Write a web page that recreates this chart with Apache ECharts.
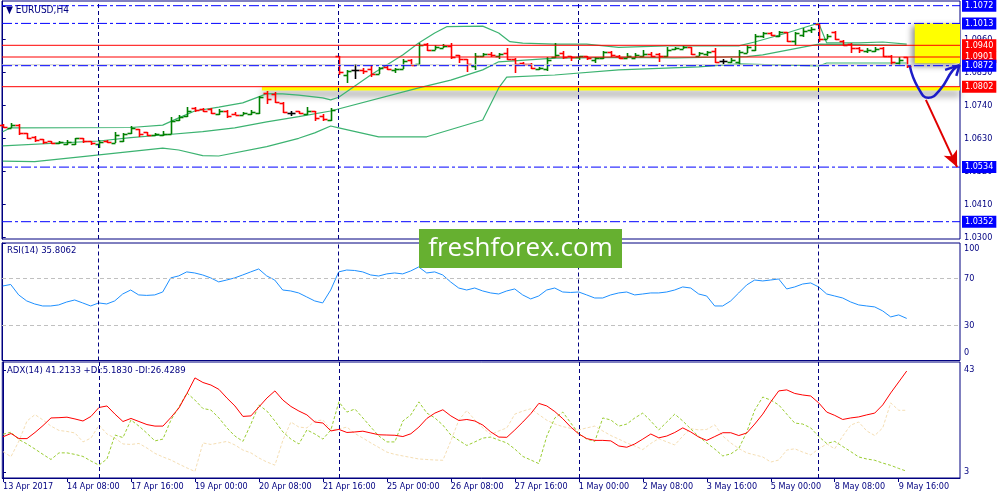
<!DOCTYPE html>
<html><head><meta charset="utf-8">
<script src="https://cdn.jsdelivr.net/npm/echarts@6/dist/echarts.min.js"></script>
<style>html,body{margin:0;padding:0;background:#fff}#c{width:1000px;height:500px}</style>
</head><body><div id="c"></div>
<script>
// ---------- DATA ----------
const timeLabels = ['13 Apr 2017','14 Apr 08:00','17 Apr 16:00','19 Apr 00:00','20 Apr 08:00','21 Apr 16:00','25 Apr 00:00','26 Apr 08:00','27 Apr 16:00','1 May 00:00','2 May 08:00','3 May 16:00','5 May 00:00','8 May 08:00','9 May 16:00'];
const timeLabelBars = [0,8,16,24,32,40,48,56,64,72,80,88,96,104,112];
const weekSeparators = [12,42,72,102];

const openP = [1.0673,1.0665,1.0675,1.0646,1.0634,1.0626,1.0620,1.0614,1.0612,1.0612,
1.0630,1.0620,1.0612,1.0622,1.0614,1.0620,1.0648,1.0660,1.0650,1.0640,
1.0640,1.0644,1.0690,1.0703,1.0730,1.0728,1.0727,1.0710,1.0722,1.0712,
1.0708,1.0710,1.0716,1.0780,1.0778,1.0749,1.0716,1.0720,1.0710,1.0720,
1.0705,1.0690,1.0904,1.0840,1.0858,1.0858,1.0860,1.0845,1.0868,1.0857,
1.0862,1.0892,1.0878,1.0943,1.0925,1.0932,1.0938,1.0907,1.0895,1.0872,
1.0905,1.0912,1.0903,1.0913,1.0895,1.0880,1.0878,1.0862,1.0860,1.0900,
1.0913,1.0903,1.0902,1.0903,1.0892,1.0898,1.0918,1.0905,1.0897,1.0897,
1.0903,1.0912,1.0910,1.0903,1.0928,1.0928,1.0935,1.0905,1.0910,1.0920,
1.0888,1.0883,1.0885,1.0915,1.0925,1.0970,1.0981,1.0972,1.0983,1.0955,
1.0975,1.0990,1.1012,1.0962,1.0985,1.0955,1.0945,1.0932,1.0920,1.0920,
1.0930,1.0905,1.0880,1.0902];
const highP = [1.0677,1.0680,1.0679,1.0648,1.0637,1.0628,1.0621,1.0620,1.0624,1.0632,
1.0632,1.0622,1.0624,1.0624,1.0650,1.0647,1.0670,1.0661,1.0652,1.0648,
1.0655,1.0700,1.0708,1.0734,1.0733,1.0730,1.0730,1.0728,1.0725,1.0719,
1.0719,1.0724,1.0771,1.0788,1.0784,1.0750,1.0722,1.0722,1.0736,1.0722,
1.0712,1.0730,1.0906,1.0858,1.0877,1.0863,1.0874,1.0869,1.0871,1.0865,
1.0893,1.0896,1.0947,1.0947,1.0941,1.0944,1.0948,1.0908,1.0895,1.0913,
1.0913,1.0918,1.0913,1.0930,1.0897,1.0886,1.0880,1.0869,1.0900,1.0949,
1.0920,1.0906,1.0904,1.0904,1.0900,1.0922,1.0922,1.0908,1.0914,1.0914,
1.0925,1.0919,1.0916,1.0933,1.0936,1.0938,1.0936,1.0919,1.0922,1.0930,
1.0894,1.0897,1.0925,1.0941,1.0978,1.0986,1.0983,1.0989,1.0986,1.0986,
1.0997,1.1000,1.1014,1.0978,1.0989,1.0958,1.0949,1.0933,1.0930,1.0933,
1.0933,1.0908,1.0902,1.0902];
const lowP = [1.0664,1.0663,1.0641,1.0628,1.0618,1.0612,1.0610,1.0610,1.0608,1.0607,
1.0614,1.0608,1.0597,1.0614,1.0614,1.0617,1.0644,1.0634,1.0637,1.0636,
1.0638,1.0644,1.0686,1.0702,1.0719,1.0719,1.0710,1.0708,1.0699,1.0708,
1.0707,1.0708,1.0712,1.0743,1.0747,1.0713,1.0706,1.0711,1.0708,1.0689,
1.0688,1.0688,1.0840,1.0813,1.0828,1.0843,1.0833,1.0843,1.0858,1.0849,
1.0860,1.0871,1.0876,1.0922,1.0924,1.0930,1.0893,1.0882,1.0852,1.0858,
1.0901,1.0900,1.0893,1.0891,1.0847,1.0874,1.0860,1.0858,1.0855,1.0897,
1.0893,1.0888,1.0891,1.0891,1.0882,1.0893,1.0902,1.0893,1.0897,1.0897,
1.0900,1.0902,1.0886,1.0902,1.0925,1.0927,1.0908,1.0905,1.0905,1.0880,
1.0878,1.0880,1.0875,1.0913,1.0920,1.0964,1.0971,1.0969,1.0952,1.0941,
1.0969,1.0980,1.0952,1.0960,1.0957,1.0938,1.0914,1.0916,1.0916,1.0919,
1.0902,1.0875,1.0875,1.0864];
const closeP = [1.0668,1.0674,1.0647,1.0632,1.0624,1.0618,1.0615,1.0617,1.0618,1.0630,
1.0620,1.0614,1.0619,1.0618,1.0640,1.0644,1.0663,1.0645,1.0641,1.0644,
1.0645,1.0686,1.0700,1.0720,1.0724,1.0721,1.0716,1.0722,1.0706,1.0709,
1.0714,1.0718,1.0768,1.0760,1.0752,1.0717,1.0716,1.0714,1.0720,1.0698,
1.0695,1.0725,1.0850,1.0855,1.0858,1.0855,1.0845,1.0866,1.0862,1.0862,
1.0888,1.0875,1.0940,1.0925,1.0935,1.0938,1.0900,1.0893,1.0877,1.0905,
1.0910,1.0907,1.0910,1.0895,1.0877,1.0877,1.0866,1.0866,1.0890,1.0909,
1.0901,1.0900,1.0903,1.0898,1.0897,1.0917,1.0907,1.0897,1.0905,1.0908,
1.0912,1.0906,1.0905,1.0925,1.0932,1.0933,1.0912,1.0914,1.0917,1.0886,
1.0888,1.0892,1.0918,1.0935,1.0970,1.0980,1.0975,1.0983,1.0955,1.0981,
1.0989,1.0996,1.0960,1.0972,1.0962,1.0942,1.0930,1.0925,1.0925,1.0928,
1.0905,1.0885,1.0892,1.0872];

// band lines read at [bar, price]
const bandUpper = [[0,1.0652],[1,1.0665],[16,1.0666],[20,1.0674],[22,1.0698],[24,1.0721],[27,1.0734],[30,1.0748],[32,1.0768],[33,1.0779],[35,1.0778],[37,1.0774],[40,1.0765],[41,1.0758],[42,1.0767],[46,1.0841],[50,1.0908],[52,1.0948],[54,1.0981],[55.5,1.1002],[60,1.1004],[62,1.0981],[63.4,1.0952],[65,1.0947],[69,1.0944],[73,1.0944],[77,1.0933],[83,1.0938],[92,1.0938],[94,1.0951],[98,1.0981],[100.5,1.1002],[102,1.1014],[103,1.0948],[107,1.0948],[110,1.0951],[113,1.0944]];
const bandMiddle = [[0,1.0605],[12,1.0621],[16,1.0632],[20,1.0641],[25,1.0652],[29,1.0665],[33,1.0685],[37,1.0702],[41,1.0721],[52,1.0798],[56,1.0824],[60,1.0858],[62,1.0885],[69,1.0897],[77,1.0900],[84,1.0898],[93,1.0902],[95,1.0908],[102,1.0944],[113,1.0940]];
const bandLower = [[0,1.0554],[4,1.0552],[10,1.0569],[15,1.0583],[20,1.0597],[22,1.0591],[25,1.0572],[27,1.0571],[33,1.0602],[37,1.0630],[39,1.0648],[41,1.0671],[42,1.0665],[47,1.0635],[53,1.0635],[60,1.0691],[62,1.0798],[63,1.0834],[69,1.0841],[77,1.0858],[87,1.0868],[92,1.0878],[102,1.0871],[103,1.0881],[113,1.0881]];

const priceTicks = [1.0300,1.0410,1.0520,1.0630,1.0740,1.0850,1.0960,1.1070];
const blueLevels = [1.1072,1.1013,1.0872,1.0534,1.0352];
const redLevels = [1.0940,1.0901,1.0802];
const askLevel = 1.0875;
const supportZone = [32.4, 1.0802, 1.0789];   // from bar, top, bottom
const targetZone = [114, 1.1013, 1.0880];
const forecastPath = [[113.4,1.0869],[114.4,1.0800],[115.7,1.0765],[117.2,1.0793],[118.8,1.0858],[119.6,1.0872]];
const forecastHead = [[117.8,1.0858],[119.6,1.0874],[119.2,1.0838]];
const dropArrow = [[115.4,1.0758],[119.3,1.0534]];

const rsi = [63.4,64.7,55.8,50.7,48.1,46.4,46.4,47.3,49.8,51.5,
49.0,46.4,49.0,48.1,50.7,56.6,60.0,55.8,55.4,55.8,
58.3,70.3,72.0,75.4,74.5,72.8,70.3,66.9,68.5,70.3,
72.8,75.4,77.9,72.0,68.5,60.0,59.2,57.5,54.1,50.7,
49.0,60.0,75.4,77.0,76.6,75.4,72.8,71.9,73.7,74.5,
73.7,76.2,79.6,74.5,75.4,72.8,66.8,61.7,60.0,61.7,
59.2,57.5,56.6,59.2,60.9,55.8,52.4,54.9,60.0,61.7,
58.3,57.9,58.3,55.8,53.2,53.2,55.8,57.5,58.3,55.8,
56.6,57.5,57.5,58.3,60.0,62.6,61.7,56.6,54.9,46.4,
46.4,50.7,57.5,64.3,68.5,67.7,68.5,69.4,60.9,62.6,
65.1,66.0,62.6,56.6,54.9,53.2,49.8,47.3,46.4,45.6,
42.2,37.1,38.8,35.8];
const rsiTicks = [0,30,70,100];
const rsiLevels = [70,30];

const adx = [16.8,18.1,16.1,16.1,18.5,21.2,24.2,24.3,24.5,23.8,
23.0,24.8,28.3,28.9,25.7,22.8,24.0,22.8,21.6,21.0,
21.0,24.4,28.1,33.8,39.9,38.1,37.1,35.4,32.0,28.9,
24.8,25.0,28.5,32.0,34.8,31.2,28.7,26.9,25.4,22.6,
22.2,19.1,19.7,18.5,18.7,19.0,18.3,17.6,17.5,17.4,
16.9,18.0,20.6,24.0,26.1,27.4,25.0,23.2,23.6,23.0,
21.4,18.7,16.7,16.6,19.5,22.6,25.9,29.9,28.9,26.7,
23.9,20.6,17.9,16.1,15.4,15.4,15.2,13.2,12.7,14.0,
15.9,17.9,16.4,17.1,18.5,20.3,18.7,16.7,15.4,16.9,
18.4,18.4,17.3,18.3,21.8,25.7,30.5,34.8,35.2,33.8,
33.2,32.8,30.1,26.5,25.2,23.6,24.2,24.6,25.4,26.1,
29.3,34.0,38.3,42.6];
const plusDI = [17.8,18.6,15.7,14.0,12.0,9.9,7.9,10.5,10.5,9.9,
9.1,7.3,5.7,8.1,17.5,16.5,23.4,21.0,18.2,15.2,
15.9,23.4,28.5,34.0,31.2,27.9,27.3,24.2,20.3,17.1,
15.0,21.8,29.3,26.9,23.0,18.7,15.9,14.0,19.5,17.9,
15.9,19.5,30.5,26.5,27.7,24.2,20.6,17.1,14.8,14.8,
23.0,25.4,30.5,26.1,24.2,21.4,17.5,15.4,13.4,14.8,
16.3,16.7,15.5,14.4,12.0,9.1,7.7,6.3,17.1,24.2,
26.5,22.2,18.0,15.9,15.0,24.2,23.4,21.0,21.8,24.2,
26.1,23.0,19.5,22.6,25.7,23.0,19.9,16.9,14.4,12.0,
9.3,10.1,12.2,18.7,27.3,32.4,31.2,29.3,25.7,22.2,
21.8,20.3,16.9,14.2,15.0,13.0,11.0,8.9,8.1,7.6,
6.5,5.6,4.4,3.3];
const minusDI = [11.0,9.0,15.2,23.0,25.5,23.4,21.0,19.3,18.9,18.3,
14.8,16.3,21.4,17.9,16.3,14.0,13.8,14.2,12.4,10.3,
8.9,7.7,6.1,4.6,3.2,14.4,13.8,14.4,15.0,13.6,
11.6,10.5,8.5,6.9,5.7,15.5,22.6,20.6,20.3,23.0,
23.4,19.5,19.9,20.6,18.1,16.3,14.4,12.6,10.8,9.9,
9.3,8.7,8.1,7.9,7.7,7.6,15.2,23.4,27.1,23.4,
20.3,17.7,19.1,20.3,25.7,26.9,27.8,25.5,23.3,21.8,
20.8,20.1,19.5,20.3,21.0,19.1,17.3,15.9,14.4,13.2,
11.8,14.2,16.1,14.8,13.6,17.1,20.0,19.5,19.7,21.5,
17.1,14.4,12.2,10.5,9.7,8.9,6.9,7.7,11.6,12.1,
10.8,9.7,12.1,14.0,12.1,17.1,21.4,22.6,19.1,17.3,
20.3,30.1,27.2,27.2];
const adxTicks = [3,43];

// ---------- CHART ----------
const FONT = '"DejaVu Sans Condensed","DejaVu Sans",sans-serif';
const NAVY = '#000080';
const XMIN = -0.0875, XMAX = 119.6625;
const chart = echarts.init(document.getElementById('c'));
const ohlcData = openP.map((o,i)=>[i,o,highP[i],lowP[i],closeP[i]]);
const idx = arr => arr.map((v,i)=>[i,v]);

function renderBar(params, api){
  const i = api.value(0), ov = api.value(1), cv = api.value(4);
  const h = api.coord([i, api.value(2)]), l = api.coord([i, api.value(3)]);
  const o = api.coord([i, ov]), c = api.coord([i, cv]);
  const col = cv > ov ? '#008000' : (cv < ov ? '#ff0000' : '#000000');
  const x = Math.round(h[0]) + 0.5;
  const st = {stroke: col, lineWidth: 1.6};
  return {type:'group', children:[
    {type:'line', shape:{x1:x, y1:Math.round(h[1]), x2:x, y2:Math.round(l[1])}, style:st},
    {type:'line', shape:{x1:x-4, y1:Math.round(o[1])+0.5, x2:x, y2:Math.round(o[1])+0.5}, style:st},
    {type:'line', shape:{x1:x, y1:Math.round(c[1])+0.5, x2:x+4, y2:Math.round(c[1])+0.5}, style:st}
  ]};
}

const lblBase = {fontFamily:FONT, fontSize:9, color:NAVY};
function levelSeries(v, col, dashed, withLabel){
  return {type:'line', name:'lvl'+v, xAxisIndex:0, yAxisIndex:0, data:[[XMIN,v],[XMAX,v]],
    symbol:'none', silent:true, clip:false, z:5,
    lineStyle:{color:col, width:1, type: dashed ? [10,3,3,3] : 'solid'},
    endLabel:{show:withLabel, formatter:v.toFixed(4), distance:2, color:'#fff',
      backgroundColor:col, padding:[2,3,1,3], fontFamily:FONT, fontSize:9}};
}
const sepItems = weekSeparators.map(v=>({xAxis:v, lineStyle:{color:NAVY, type:[4,3], width:1}, label:{show:false}}));

const axisCommonX = (gi, showLabels) => ({
  type:'value', gridIndex:gi, min:XMIN, max:XMAX,
  axisLine:{show:showLabels, lineStyle:{color:NAVY}},
  axisTick:{show:showLabels, customValues:timeLabelBars, length:4, lineStyle:{color:NAVY}},
  axisLabel:{show:showLabels, customValues:timeLabelBars, align:'left', margin:4,
    formatter: v => timeLabels[timeLabelBars.indexOf(v)] || '', ...lblBase},
  splitLine:{show:false}
});

const series = [
  {type:'custom', name:'EURUSD', xAxisIndex:0, yAxisIndex:0, renderItem:renderBar, data:ohlcData,
    encode:{x:0, y:[1,2,3,4]}, z:3},
  {type:'line', name:'upper', xAxisIndex:0, yAxisIndex:0, data:bandUpper, symbol:'none', z:2,
    lineStyle:{color:'#3cb371', width:1.2}},
  {type:'line', name:'middle', xAxisIndex:0, yAxisIndex:0, data:bandMiddle, symbol:'none', z:2,
    lineStyle:{color:'#3cb371', width:1.2},
    markArea:{silent:true, z:1, data:[
      [{xAxis:supportZone[0], yAxis:supportZone[1], itemStyle:{color:'#ffff00', shadowColor:'rgba(0,0,0,0.5)', shadowBlur:7, shadowOffsetY:5}},
       {xAxis:XMAX, yAxis:supportZone[2]}],
      [{xAxis:targetZone[0], yAxis:targetZone[1], itemStyle:{color:'#ffff00', shadowColor:'rgba(0,0,0,0.45)', shadowBlur:6, shadowOffsetX:-3, shadowOffsetY:3}},
       {xAxis:XMAX, yAxis:targetZone[2]}]
    ]},
    markLine:{silent:true, symbol:['none','none'], label:{show:false}, data:sepItems}},
  {type:'line', name:'lower', xAxisIndex:0, yAxisIndex:0, data:bandLower, symbol:'none', z:2,
    lineStyle:{color:'#3cb371', width:1.2}},
  Object.assign(levelSeries(askLevel,'#c8c8c8',false,false), {z:4}),
  ...redLevels.map(v=>levelSeries(v,'#ff0000',false,true)),
  ...blueLevels.map(v=>levelSeries(v,'#0000ff',true,true)),
  {type:'line', name:'forecast', xAxisIndex:0, yAxisIndex:0, data:forecastPath, symbol:'none', smooth:0.5, clip:false, z:8,
    lineStyle:{color:'#1c1cc8', width:2.5}},
  {type:'line', name:'forecastHead', xAxisIndex:0, yAxisIndex:0, data:forecastHead, symbol:'none', clip:false, z:8,
    lineStyle:{color:'#1c1cc8', width:2.5},
    markLine:{silent:true, z:8, symbol:['none','arrow'], symbolSize:[11,16], label:{show:false},
      lineStyle:{color:'#e00000', width:2, type:'solid'},
      data:[[{coord:dropArrow[0]},{coord:dropArrow[1]}]]}},
  {type:'line', name:'RSI', xAxisIndex:1, yAxisIndex:1, data:idx(rsi), symbol:'none', z:3,
    lineStyle:{color:'#1e90ff', width:1},
    markLine:{silent:true, symbol:['none','none'], label:{show:false},
      data: rsiLevels.map(v=>({yAxis:v, lineStyle:{color:'#c0c0c0', type:[4,3], width:1}})).concat(sepItems)}},
  {type:'line', name:'-DI', xAxisIndex:2, yAxisIndex:2, data:idx(minusDI), symbol:'none', z:2,
    lineStyle:{color:'#f5deb3', width:1, type:[3,2]}},
  {type:'line', name:'+DI', xAxisIndex:2, yAxisIndex:2, data:idx(plusDI), symbol:'none', z:2,
    lineStyle:{color:'#9acd32', width:1, type:[3,2]}},
  {type:'line', name:'ADX', xAxisIndex:2, yAxisIndex:2, data:idx(adx), symbol:'none', z:3,
    lineStyle:{color:'#ff0000', width:1},
    markLine:{silent:true, symbol:['none','none'], label:{show:false}, data:sepItems}}
];

const option = {
  animation:false,
  backgroundColor:'#fff',
  title:[
    {text:'\u25BC EURUSD,H4', left:6, top:5, padding:0, textStyle:{...lblBase, fontSize:10, fontWeight:'normal'}},
    {text:'RSI(14) 35.8062', left:7, top:246, padding:0, textStyle:{...lblBase, fontSize:9.5, fontWeight:'normal'}},
    {text:'ADX(14) 41.2133 +DI:5.1830 -DI:26.4289', left:7, top:366, padding:0, textStyle:{...lblBase, fontSize:9.5, fontWeight:'normal'}}
  ],
  grid:[
    {left:2, top:1, width:958, height:238, show:true, borderColor:NAVY, borderWidth:1},
    {left:2, top:243, width:958, height:117.5, show:true, borderColor:NAVY, borderWidth:1},
    {left:2, top:362, width:958, height:116, show:true, borderColor:NAVY, borderWidth:1}
  ],
  xAxis:[axisCommonX(0,false), axisCommonX(1,false), axisCommonX(2,true)],
  yAxis:[
    {type:'value', gridIndex:0, position:'right', min:1.029433, max:1.108767,
      axisLine:{show:true, lineStyle:{color:NAVY}},
      axisTick:{show:true, customValues:priceTicks, length:3, lineStyle:{color:NAVY}},
      axisLabel:{customValues:priceTicks, formatter:v=>v.toFixed(4), margin:4, ...lblBase},
      splitLine:{show:false}},
    {type:'value', gridIndex:1, position:'right', min:0, max:100,
      axisLine:{show:true, lineStyle:{color:NAVY}},
      axisTick:{show:true, customValues:rsiTicks, length:3, lineStyle:{color:NAVY}},
      axisLabel:{customValues:rsiTicks, margin:4, ...lblBase,
        formatter:v=> v===100 ? '{t|100}' : (v===0 ? '{b|0}' : String(v)),
        rich:{t:{padding:[12,0,0,0], fontFamily:FONT, fontSize:9, color:NAVY}, b:{padding:[0,0,15,0], fontFamily:FONT, fontSize:9, color:NAVY}}},
      splitLine:{show:false}},
    {type:'value', gridIndex:2, position:'right', min:0.647, max:46.137,
      axisLine:{show:true, lineStyle:{color:NAVY}},
      axisTick:{show:true, customValues:adxTicks, length:3, lineStyle:{color:NAVY}},
      axisLabel:{customValues:adxTicks, margin:4, ...lblBase},
      splitLine:{show:false}}
  ],
  series: series,
  graphic:[
    {type:'rect', shape:{x:419, y:229, width:203, height:39}, style:{fill:'#66b030'}, z:100},
    {type:'text', x:520.5, y:249, z:101, style:{text:'freshforex.com', fill:'#ffffff', align:'center', verticalAlign:'middle', font:'26px "Open Sans", sans-serif'}}
  ]
};
chart.setOption(option);
</script>
</body></html>
